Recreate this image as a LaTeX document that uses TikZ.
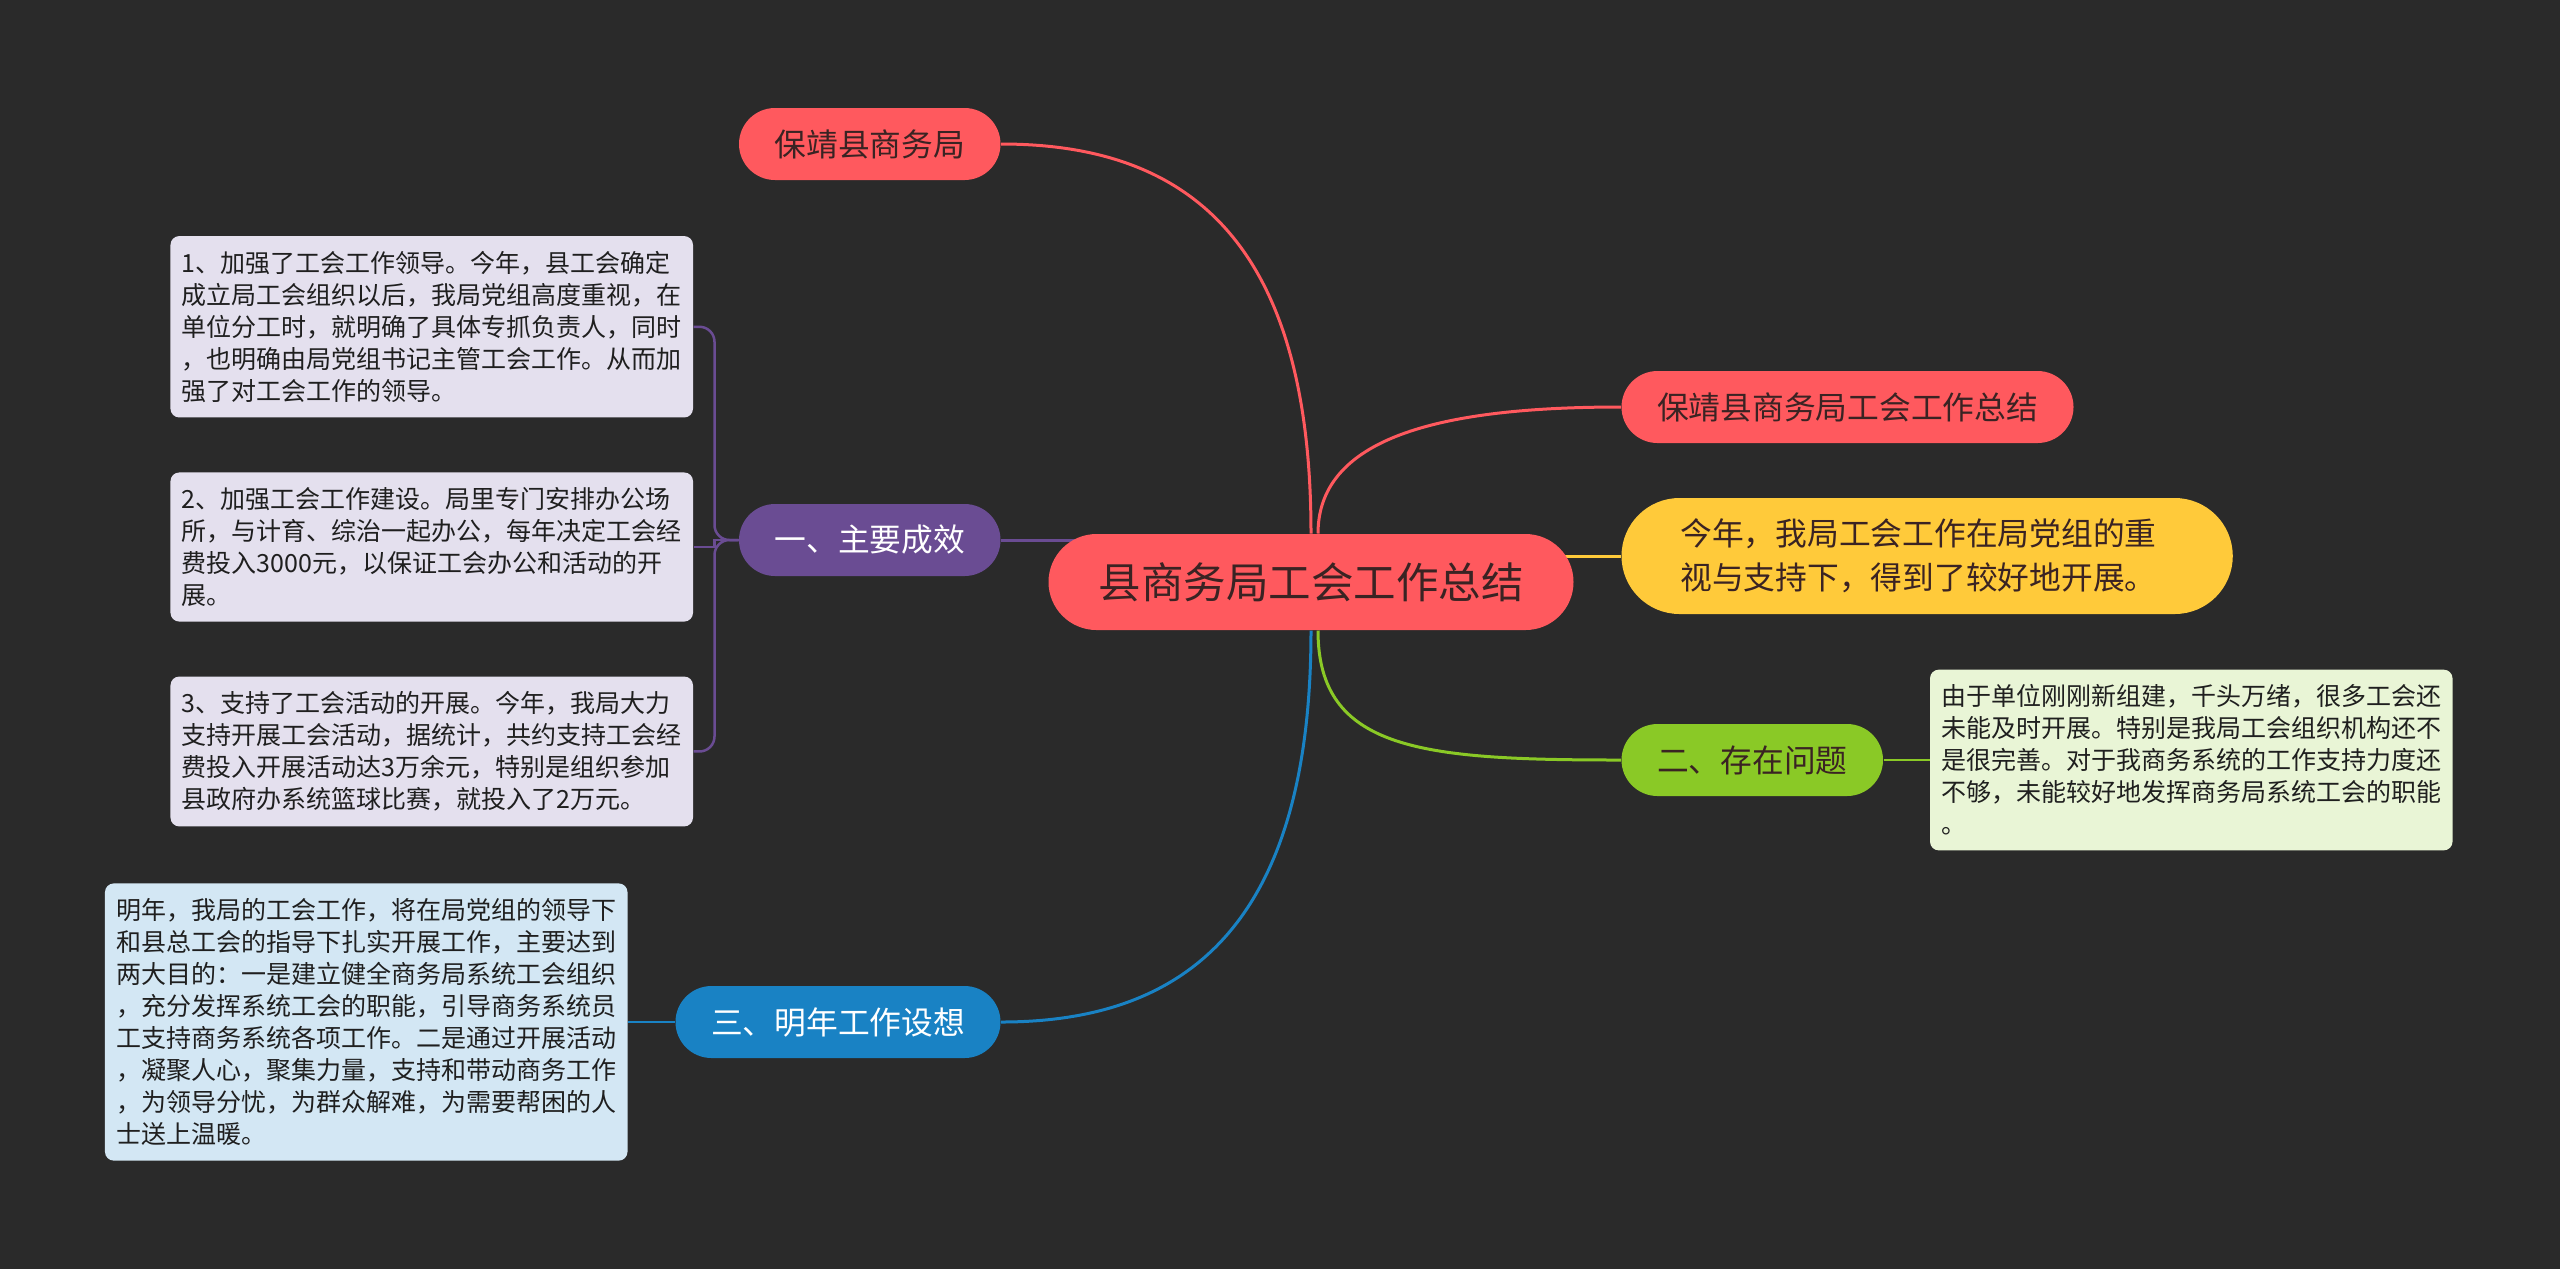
\documentclass[tikz,border=0pt]{standalone}
\usepackage{fontspec}
\setmainfont{Noto Sans CJK SC}
\usetikzlibrary{positioning, backgrounds}

\definecolor{bgdark}{HTML}{2A2A2A}
\definecolor{mapred}{HTML}{FF595E}
\definecolor{mapyellow}{HTML}{FFCA3A}
\definecolor{mapgreen}{HTML}{8AC926}
\definecolor{mapblue}{HTML}{1982C4}
\definecolor{mappurple}{HTML}{6A4C93}
\definecolor{leafpurple}{HTML}{E4E0EE}
\definecolor{leafblue}{HTML}{D3E7F4}
\definecolor{leafgreen}{HTML}{E9F5D6}
\definecolor{darktext}{HTML}{3A2323}

\begin{document}
\begin{tikzpicture}[
        x=0.4pt, y=-0.4pt, % uma unidade = 1 px da referência
        pill/.style={rectangle, rounded corners=14.4pt, minimum height=28.8pt, inner xsep=14.2pt, inner ysep=4pt, font=\fontsize{12.7}{16}\selectfont, text=darktext},
        root/.style={pill, fill=mapred, rounded corners=19.2pt, minimum height=38.4pt, inner xsep=20pt, font=\fontsize{17}{20}\selectfont},
        leaf/.style={rectangle, rounded corners=3.5pt, align=left, inner xsep=4.5pt, inner ysep=6pt, font=\fontsize{10}{12.8}\selectfont, text=black!88},
        link/.style={line width=1.2pt},
        sublink/.style={line width=1pt, rounded corners=6pt}
    ]
        \useasboundingbox (0,0) rectangle (2560,1269);

        % Nó central
        \node[root] (root) at (1311,582) {县商务局工会工作总结};

        % Ramos da esquerda
        \node[pill, fill=mapred, anchor=east] (office) at (1001,144) {保靖县商务局};
        \node[pill, fill=mappurple, text=white, anchor=east] (gains) at (1001,540) {一、主要成效};
        \node[pill, fill=mapblue, text=white, anchor=east] (plans) at (1001,1022) {三、明年工作设想};

        % Ramos da direita
        \node[pill, fill=mapred, anchor=west] (summary) at (1621,407) {保靖县商务局工会工作总结};
        \node[pill, fill=mapyellow, anchor=west, align=left, text width=197.5pt, minimum height=46.4pt, rounded corners=23.2pt, inner xsep=23.5pt, font=\fontsize{12.7}{17.6}\selectfont] (intro) at (1621,556) {今年，我局工会工作在局党组的重\\视与支持下，得到了较好地开展。};
        \node[pill, fill=mapgreen, anchor=west] (issues) at (1621,760) {二、存在问题};

        % Folhas de texto
        \node[leaf, fill=leafpurple, left=18pt of gains, yshift=-2.8pt] (gain2) {2、加强工会工作建设。局里专门安排办公场\\所，与计育、综治一起办公，每年决定工会经\\费投入3000元，以保证工会办公和活动的开\\展。};
        \node[leaf, fill=leafpurple, above=21.6pt of gain2] (gain1) {1、加强了工会工作领导。今年，县工会确定\\成立局工会组织以后，我局党组高度重视，在\\单位分工时，就明确了具体专抓负责人，同时\\，也明确由局党组书记主管工会工作。从而加\\强了对工会工作的领导。};
        \node[leaf, fill=leafpurple, below=21.6pt of gain2] (gain3) {3、支持了工会活动的开展。今年，我局大力\\支持开展工会活动，据统计，共约支持工会经\\费投入开展活动达3万余元，特别是组织参加\\县政府办系统篮球比赛，就投入了2万元。};
        \node[leaf, fill=leafblue, left=18.8pt of plans] (plandetail) {明年，我局的工会工作，将在局党组的领导下\\和县总工会的指导下扎实开展工作，主要达到\\两大目的：一是建立健全商务局系统工会组织\\，充分发挥系统工会的职能，引导商务系统员\\工支持商务系统各项工作。二是通过开展活动\\，凝聚人心，聚集力量，支持和带动商务工作\\，为领导分忧，为群众解难，为需要帮困的人\\士送上温暖。};
        \node[leaf, fill=leafgreen, right=18.4pt of issues] (issuedetail) {由于单位刚刚新组建，千头万绪，很多工会还\\未能及时开展。特别是我局工会组织机构还不\\是很完善。对于我商务系统的工作支持力度还\\不够，未能较好地发挥商务局系统工会的职能\\。};

        \begin{scope}[on background layer]
            \fill[bgdark] (0,0) rectangle (2560,1269);

            % Ligações do nó central
            \draw[link, mapred] (root.north) .. controls +(0,-300) and +(180,0) .. (office.east);
            \draw[link, mapred] ([xshift=2.8pt]root.north) .. controls +(0,-100) and +(-170,0) .. (summary.west);
            \draw[link, mapyellow] (intro.west) -- (intro.west -| root.center);
            \draw[link, mapgreen] ([xshift=2.8pt]root.south) .. controls +(0,120) and +(-200,0) .. (issues.west);
            \draw[link, mapblue] (root.south) .. controls +(0,300) and +(180,0) .. (plans.east);
            \draw[link, mappurple] (gains.east) -- (gains.east -| root.center);

            % Ligações das folhas
            \draw[sublink, mappurple] (gains.west) -- ++(-24,0) |- (gain1.east);
            \draw[sublink, mappurple, sharp corners] (gains.west) -- ++(-24,0) |- (gain2.east);
            \draw[sublink, mappurple] (gains.west) -- ++(-24,0) |- (gain3.east);
            \draw[sublink, mapblue] (plans.west) -- (plandetail.east);
            \draw[sublink, mapgreen] (issues.east) -- (issuedetail.west);
        \end{scope}
    \end{tikzpicture}
\end{document}
